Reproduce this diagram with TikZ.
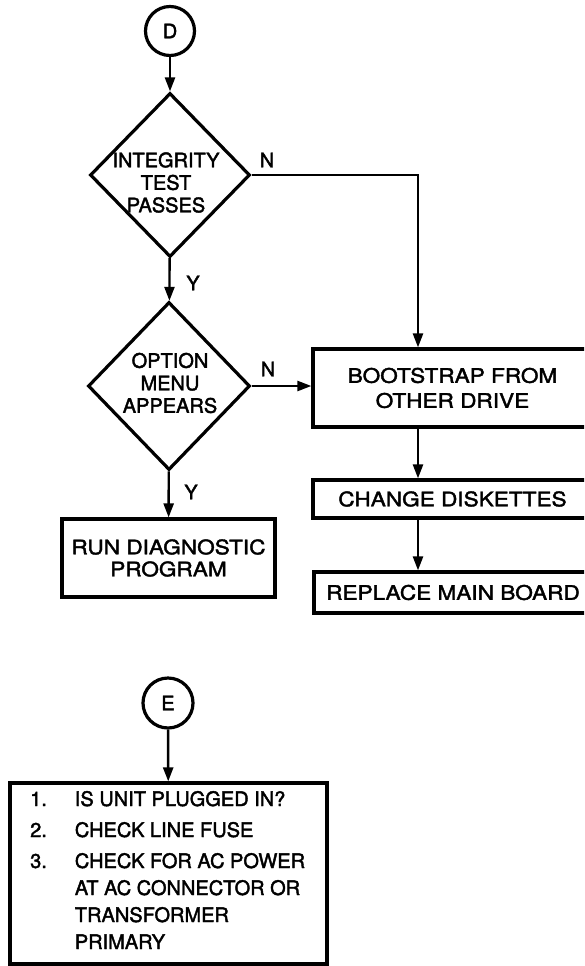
\documentclass[tikz,border=0pt]{standalone}
\usepackage{fontspec}
\setmainfont[FakeBold=2]{TeX Gyre Heros}
\newfontfamily\widefont[FakeStretch=1.13,FakeBold=2]{TeX Gyre Heros}
\usetikzlibrary{shapes.geometric,arrows.meta}
\begin{document}
\begin{tikzpicture}[x=1pt,y=-1pt,
  every node/.style={font=\fontsize{20}{22.5}\selectfont},
  outline/.style={draw, line width=3.2pt},
  flowline/.style={line width=2.4pt, -{Triangle[length=14pt,width=10pt]}},
  decision/.style={outline, diamond, inner sep=0pt},
  actbox/.style={outline, rectangle, inner sep=0pt, align=center,
    font=\widefont\fontsize{20}{25}\selectfont},
  connector/.style={outline, circle, inner sep=0pt, minimum size=49pt},
  branch/.style={inner sep=0pt},
  dtext/.style={align=center, inner sep=0pt}]

\useasboundingbox (0,0) rectangle (584,966);
\clip (0,0) rectangle (584,966);

% ---- page D ----
\node[connector] (D) at (170,31) {D};

\node[decision, minimum width=160pt, minimum height=164pt] (integ) at (170,175) {};
\node[dtext] (integt) at (166,182.5) {INTEGRITY\\TEST\\PASSES};

\node[decision, minimum width=162pt, minimum height=168pt] (menu) at (169,386) {};
\node[dtext] (menut) at (170,383) {OPTION\\MENU\\APPEARS};

\node[actbox, minimum width=213pt, minimum height=78pt,
  font=\widefont\fontsize{20}{22}\selectfont] (run) at (168.5,558) {RUN DIAGNOSTIC\\PROGRAM};

\node[actbox, minimum width=279pt, minimum height=78pt] (boot) at (452.5,388) {BOOTSTRAP FROM\\OTHER DRIVE};
\node[actbox, minimum width=279pt, minimum height=38pt] (chg) at (452.5,499) {CHANGE DISKETTES};
\node[actbox, minimum width=278pt, minimum height=41pt] (repl) at (453,592.5) {REPLACE MAIN BOARD};

\coordinate (spine) at (418,0);

\draw[flowline] (D) -- (integ);
\draw[flowline] (integ) -- (menu);
\draw[flowline] (menu) -- (run);
\draw[flowline] (integ.east) -| (spine |- boot.north);
\draw[flowline] (menu.east) -- (boot.west |- menu.east);
\draw[flowline] (spine |- boot.south) -- (spine |- chg.north);
\draw[flowline] (spine |- chg.south) -- (spine |- repl.north);

\node[branch] (n1) at (267,160) {N};
\node[branch] (y1) at (193,283) {Y};
\node[branch] (n2) at (268,369) {N};
\node[branch] (y2) at (191,492) {Y};

% ---- page E ----
\node[connector, minimum size=50pt] (E) at (168,703) {E};
\node[outline, rectangle, minimum width=317pt, minimum height=181pt, inner sep=0pt] (checks) at (168.5,873.5) {};
\node[anchor=base west, inner sep=0pt, font=\fontsize{20}{27}\selectfont] (checkst) at (30,806)
  {\begin{tabular}[t]{@{}l@{\hspace{28pt}}l@{}}
   1. & IS UNIT PLUGGED IN?\\[4pt]
   2. & CHECK LINE FUSE\\[4pt]
   3. & CHECK FOR AC POWER\\
      & AT AC CONNECTOR OR\\
      & TRANSFORMER\\
      & PRIMARY
   \end{tabular}};
\draw[flowline] (E) -- (checks);
\end{tikzpicture}
\end{document}
